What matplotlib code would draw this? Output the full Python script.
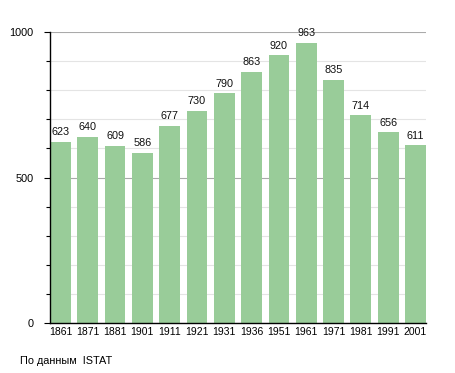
import matplotlib.pyplot as plt
from matplotlib.ticker import MultipleLocator

plt.rcParams['font.family'] = ['Liberation Sans', 'DejaVu Sans']

years = ['1861', '1871', '1881', '1901', '1911', '1921', '1931',
         '1936', '1951', '1961', '1971', '1981', '1991', '2001']
population = [623, 640, 609, 586, 677, 730, 790, 863, 920, 963, 835, 714, 656, 611]

fig = plt.figure(figsize=(4.55, 3.73), dpi=100)
ax = fig.add_axes([0.110, 0.134, 0.826, 0.780])

x = range(len(years))
ax.bar(x, population, width=0.76, color='#99cc99', zorder=2)
for xi, v in zip(x, population):
    ax.text(xi, v + 16, str(v), ha='center', va='bottom', fontsize=7.8,
            color='#111111', zorder=3)

ax.set_xlim(-0.38, len(years) - 1 + 0.38)
ax.set_ylim(0, 1000)
ax.set_xticks(list(x))
ax.set_xticklabels(years, fontsize=7.5)
ax.set_yticks([0, 500, 1000])
ax.set_yticklabels(['0', '500', '1000'], fontsize=7.8)
ax.yaxis.set_minor_locator(MultipleLocator(100))

ax.grid(axis='y', which='major', color='#aaaaaa', linewidth=0.8, zorder=0)
ax.grid(axis='y', which='minor', color='#e4e4e4', linewidth=0.8, zorder=0)
ax.set_axisbelow(True)

ax.tick_params(axis='x', length=0, pad=3)
ax.tick_params(axis='y', which='major', length=4, width=0.8, pad=8)
ax.tick_params(axis='y', which='minor', length=3, width=0.8)

for s in ['top', 'right']:
    ax.spines[s].set_visible(False)
ax.spines['left'].set_linewidth(1.0)
ax.spines['bottom'].set_linewidth(1.0)

fig.text(20 / 455, 1 - 361 / 373, 'По данным  ISTAT', fontsize=7.8,
         va='center', ha='left')

fig.savefig('out.png', dpi=100)
